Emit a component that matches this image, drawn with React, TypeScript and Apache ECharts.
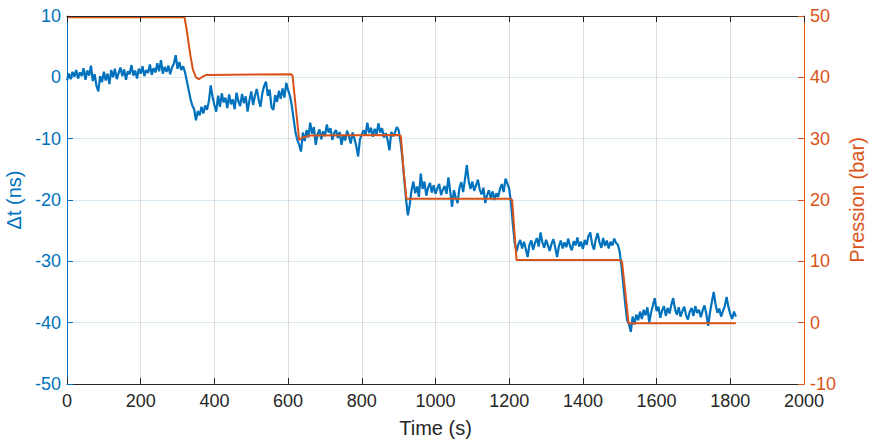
import React, { useEffect, useRef } from "react";
import * as echarts from "echarts";

// ---- Data ----
const X_TICKS_MAX = 2000;
const SAMPLE_STEP = 5; // seconds between Δt samples

// Δt (ns) samples per pressure plateau, each starting at SEG_START[i]
const SEG_START = [0, 320, 615, 905, 1205, 1505];

const dtPlateau50 = [
  -0.5, 0.6, -0.3, 0.9, 0.1, 1.2, -0.2, 0.8, 0.2, 1.5,
  -0.4, 1.1, 0.3, 1.9, -0.6, 0.5, -1.4, -2.3, 0.2, -0.8,
  0.9, -0.5, 0.6, -1.1, 1.2, 0.0, 1.4, -0.3, 0.7, 1.6,
  0.2, 1.3, -0.4, 1.0, 0.5, 2.0, 0.3, 1.1, -0.2, 1.4,
  0.6, 1.8, 0.2, 1.2, 0.7, 2.1, 0.4, 1.5, 0.8, 2.3,
  1.0, 2.8, 0.6, 1.7, 0.9, 1.9, 0.5, 1.6, 2.2, 3.6,
  1.4, 2.5, 1.2, 1.8,
];
const dtPlateau40 = [
  0.9, -0.5, -2.0, -3.5, -4.6, -5.2, -7.0, -5.5, -6.2, -4.8,
  -5.9, -4.6, -5.3, -3.9, -1.3, -3.2, -4.5, -5.6, -3.0, -4.8,
  -2.6, -4.1, -3.3, -5.0, -2.8, -4.4, -3.6, -5.2, -2.5, -3.9,
  -4.7, -2.7, -4.2, -3.1, -5.6, -3.8, -2.3, -4.5, -3.0, -1.9,
  -3.6, -4.8, -2.6, -1.4, -0.7, -3.0, -2.0, -4.9, -5.3, -2.9,
  -4.0, -2.2, -3.5, -1.8, -3.3, -0.9, -2.1, -3.0, -4.6,
];
const dtPlateau30 = [
  -6.8, -8.9, -10.2, -11.0, -12.1, -9.0, -10.4, -8.6, -9.8, -7.4,
  -9.2, -8.1, -11.0, -9.3, -8.5, -10.1, -8.8, -9.6, -7.7, -9.0,
  -8.3, -10.2, -9.1, -8.6, -9.9, -8.9, -11.0, -9.4, -10.3, -8.7,
  -9.6, -10.8, -9.0, -10.0, -11.2, -12.9, -10.1, -9.3, -8.6, -9.5,
  -7.4, -9.1, -8.2, -9.7, -8.4, -9.3, -7.5, -9.0, -8.3, -9.8,
  -9.1, -10.2, -11.9, -8.9, -9.6, -9.0, -8.1, -8.6,
];
const dtPlateau20 = [
  -10.5, -13.0, -16.5, -19.8, -22.5, -20.8, -18.4, -17.0, -18.9, -17.8,
  -19.5, -15.7, -18.2, -17.0, -19.3, -18.0, -17.2, -18.8, -17.6, -19.0,
  -18.1, -17.4, -19.2, -18.3, -17.7, -19.0, -16.3, -18.6, -21.1, -18.4,
  -19.6, -20.5, -18.0, -17.1, -18.7, -16.6, -14.3, -16.9, -18.2, -17.0,
  -18.5, -17.6, -16.7, -18.3, -19.1, -18.0, -20.5, -19.2, -18.4, -19.7,
  -18.6, -20.0, -18.9, -19.5, -18.2, -17.4, -18.7, -16.5, -17.3, -18.2,
];
const dtPlateau10 = [
  -20.5, -24.0, -27.0, -28.4, -27.2, -26.5, -27.9, -26.8, -28.0, -29.3,
  -27.3, -26.6, -28.1, -27.0, -26.2, -27.6, -25.3, -26.9, -27.8, -26.5,
  -27.4, -28.3, -27.1, -26.4, -27.8, -29.3, -27.5, -26.6, -27.9, -26.9,
  -27.7, -26.3, -27.5, -28.2, -26.7, -27.4, -26.1, -27.6, -26.8, -28.0,
  -26.5, -27.3, -25.9, -25.3, -27.2, -28.1, -26.4, -25.4, -26.9, -27.8,
  -26.2, -27.5, -26.6, -27.9, -26.8, -27.4, -26.3, -27.0, -27.3, -28.5,
];
const dtPlateau0 = [
  -31.0, -34.0, -37.0, -39.6, -40.2, -41.5, -39.0, -40.3, -38.7, -39.6,
  -38.2, -39.4, -37.9, -38.8, -37.5, -40.0, -38.3, -37.2, -36.0, -38.1,
  -37.4, -39.2, -38.0, -37.3, -38.9, -37.6, -38.5, -37.1, -36.0, -37.8,
  -38.7, -37.5, -39.0, -38.1, -37.4, -38.8, -39.5, -38.2, -37.6, -38.9,
  -37.3, -38.4, -37.9, -39.1, -38.0, -37.2, -38.6, -40.5, -38.3, -36.6,
  -35.0, -37.0, -38.4, -37.7, -39.0, -38.1, -37.3, -35.8, -37.5, -38.6,
  -39.4, -38.2, -39.0,
];

// Pressure (bar) vs time (s)
const pressTime = [
  0, 319, 324, 329, 335, 342, 350, 358, 368, 378,
  608, 612, 621, 630, 640, 658, 900, 906, 913, 921,
  1203, 1208, 1214, 1220, 1498, 1506, 1515, 1524, 1815,
];
const pressValue = [
  49.8, 49.8, 48, 46, 43.5, 41.2, 40.0, 39.7, 40.1, 40.4,
  40.5, 40.3, 35, 29.8, 30.2, 30.5, 30.6, 30.4, 25, 20.2,
  20.2, 20.0, 15, 10.2, 10.2, 10, 5, -0.1, -0.1,
];

const BLUE = "#0072BD";
const ORANGE = "#D95319";
const DARK = "#262626";
const FONT = "'Liberation Sans', Arial, Helvetica, sans-serif";

function buildDt(): [number, number][] {
  const segs = [dtPlateau50, dtPlateau40, dtPlateau30, dtPlateau20, dtPlateau10, dtPlateau0];
  const out: [number, number][] = [];
  segs.forEach((seg, s) => {
    seg.forEach((v, i) => out.push([SEG_START[s] + i * SAMPLE_STEP, v]));
  });
  return out;
}

const plain = (v: number) => String(v);

export default function App() {
  const ref = useRef<HTMLDivElement>(null);
  useEffect(() => {
    if (!ref.current) return;
    const chart = echarts.init(ref.current, null, { renderer: "svg" });
    const pressData = pressTime.map((t, i) => [t, pressValue[i]]);
    chart.setOption({
      animation: false,
      backgroundColor: "#ffffff",
      textStyle: { fontFamily: FONT },
      grid: {
        left: 67,
        right: 66,
        top: 16,
        bottom: 59,
        containLabel: false,
        outerBoundsMode: "none",
      },
      xAxis: [
        {
          type: "value",
          position: "bottom",
          min: 0,
          max: X_TICKS_MAX,
          interval: 200,
          axisLine: { show: true, onZero: false, lineStyle: { color: DARK, width: 1 } },
          axisTick: { show: true, inside: true, length: 6, lineStyle: { color: DARK } },
          axisLabel: { color: DARK, fontSize: 18, margin: 8, fontFamily: FONT, formatter: plain },
          splitLine: { show: true, lineStyle: { color: "rgba(38,38,38,0.15)", width: 1 } },
          name: "Time (s)",
          nameLocation: "middle",
          nameGap: 34,
          nameTextStyle: { color: DARK, fontSize: 20, fontFamily: FONT },
        },
        {
          type: "value",
          position: "top",
          min: 0,
          max: X_TICKS_MAX,
          interval: 200,
          z: 5,
          axisLine: { show: true, onZero: false, lineStyle: { color: DARK, width: 1 } },
          axisTick: { show: true, inside: true, length: 6, lineStyle: { color: DARK } },
          axisLabel: { show: false },
          splitLine: { show: false },
        },
      ],
      yAxis: [
        {
          type: "value",
          position: "left",
          min: -50,
          max: 10,
          interval: 10,
          axisLine: { show: true, onZero: false, lineStyle: { color: BLUE, width: 1 } },
          axisTick: { show: true, inside: true, length: 6, lineStyle: { color: BLUE } },
          axisLabel: { color: BLUE, fontSize: 18, margin: 6, fontFamily: FONT, formatter: plain },
          splitLine: { show: true, lineStyle: { color: "rgba(0,114,189,0.15)", width: 1 } },
          name: "Δt (ns)",
          nameLocation: "middle",
          nameGap: 37,
          nameTextStyle: { color: BLUE, fontSize: 20, fontFamily: FONT },
        },
        {
          type: "value",
          position: "right",
          min: -10,
          max: 50,
          interval: 10,
          z: 5,
          axisLine: { show: true, onZero: false, lineStyle: { color: ORANGE, width: 1 } },
          axisTick: { show: true, inside: true, length: 6, lineStyle: { color: ORANGE } },
          axisLabel: { color: ORANGE, fontSize: 18, margin: 6, fontFamily: FONT, formatter: plain },
          splitLine: { show: false },
          name: "Pression (bar)",
          nameLocation: "middle",
          nameGap: 42,
          nameTextStyle: { color: ORANGE, fontSize: 20, fontFamily: FONT },
        },
      ],
      series: [
        {
          type: "line",
          xAxisIndex: 0,
          yAxisIndex: 0,
          data: buildDt(),
          symbol: "none",
          showSymbol: false,
          lineStyle: { color: BLUE, width: 2.2 },
          itemStyle: { color: BLUE },
          z: 2,
        },
        {
          type: "line",
          xAxisIndex: 0,
          yAxisIndex: 1,
          data: pressData,
          symbol: "none",
          showSymbol: false,
          lineStyle: { color: ORANGE, width: 2 },
          itemStyle: { color: ORANGE },
          z: 3,
        },
      ],
    });
    return () => chart.dispose();
  }, []);
  return (
    <div
      ref={ref}
      style={{ position: "fixed", left: 0, top: 0, width: 870, height: 443, background: "#fff" }}
    />
  );
}
